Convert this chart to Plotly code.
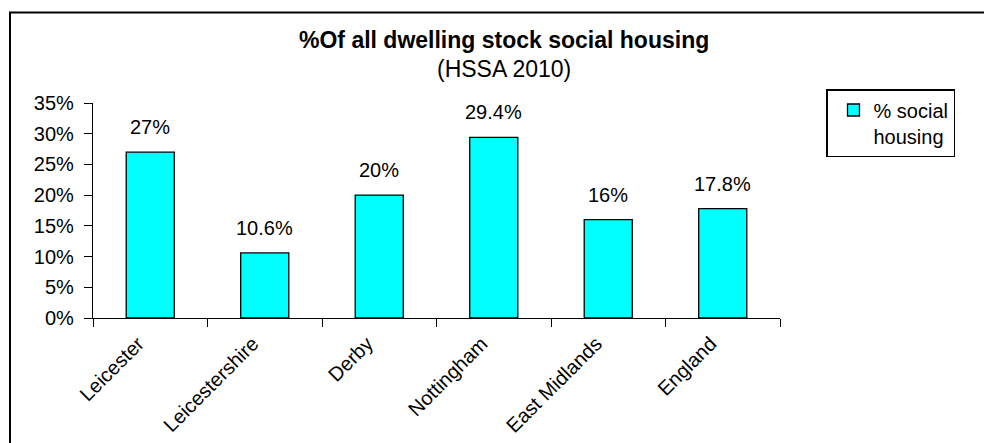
import plotly.graph_objects as go

# Share of all dwelling stock that is social housing, HSSA 2010
areas = ["Leicester", "Leicestershire", "Derby", "Nottingham", "East Midlands", "England"]
social_pct = [27, 10.6, 20, 29.4, 16, 17.8]
y_ticks = [0, 5, 10, 15, 20, 25, 30, 35]
series_name = "% social<br>housing"

FONT = "Liberation Sans, Arial, sans-serif"

W, H = 984, 443
L, R, T, B = 93, 204, 103, 125
pw, ph = W - L - R, H - T - B


def px_x(px):
    return (px - L) / pw


def px_y(py):
    return (H - B - py) / ph


fig = go.Figure()
fig.add_trace(go.Bar(
    x=areas,
    y=social_pct,
    name=series_name,
    width=0.42,
    marker=dict(color="#00FFFF", line=dict(color="black", width=1.3)),
    hoverinfo="skip",
))

# value labels sitting above each bar
for a, v in zip(areas, social_pct):
    fig.add_annotation(
        x=a, y=v, text=f"{v:g}%", showarrow=False,
        xref="x", yref="y", yanchor="bottom", yshift=12,
        font=dict(family=FONT, size=20, color="black"),
    )

# chart title (two lines)
fig.add_annotation(
    x=px_x(504), y=px_y(40), xref="paper", yref="paper",
    text="<b>%Of all dwelling stock social housing</b>",
    showarrow=False, xanchor="center", yanchor="middle",
    font=dict(family=FONT, size=23, color="black"),
)
fig.add_annotation(
    x=px_x(504), y=px_y(69), xref="paper", yref="paper",
    text="(HSSA 2010)",
    showarrow=False, xanchor="center", yanchor="middle",
    font=dict(family=FONT, size=23, color="black"),
)

# chart frame
fig.add_shape(
    type="rect", xref="paper", yref="paper",
    x0=px_x(10), y0=px_y(460), x1=px_x(1000), y1=px_y(12.5),
    line=dict(color="black", width=2), fillcolor="rgba(0,0,0,0)",
    layer="below",
)

fig.update_layout(
    width=W, height=H,
    margin=dict(l=L, r=R, t=T, b=B, pad=0),
    paper_bgcolor="white", plot_bgcolor="white",
    font=dict(family=FONT, size=20, color="black"),
    showlegend=True,
    legend=dict(
        x=px_x(826), y=px_y(89), xanchor="left", yanchor="top",
        bordercolor="black", borderwidth=1.5, bgcolor="white",
        font=dict(family=FONT, size=20, color="black"),
        itemwidth=30, valign="top", indentation=6,
    ),
)

fig.update_xaxes(
    type="category", automargin=False,
    showline=True, linecolor="black", linewidth=1.3,
    ticks="outside", tickson="boundaries", ticklen=8, tickcolor="black",
    tickangle=-45, showgrid=False, zeroline=False,
    ticklabelshift=-12, ticklabelstandoff=5,
    tickfont=dict(family=FONT, size=20, color="black"),
)
fig.update_yaxes(
    range=[0, 35], tickvals=y_ticks, ticktext=[f"{t}%" for t in y_ticks],
    automargin=False,
    showline=True, linecolor="black", linewidth=1.3,
    ticks="outside", ticklen=8, tickcolor="black",
    showgrid=False, zeroline=False,
    ticklabelstandoff=6,
    tickfont=dict(family=FONT, size=20, color="black"),
)

fig.write_html("out.html")
